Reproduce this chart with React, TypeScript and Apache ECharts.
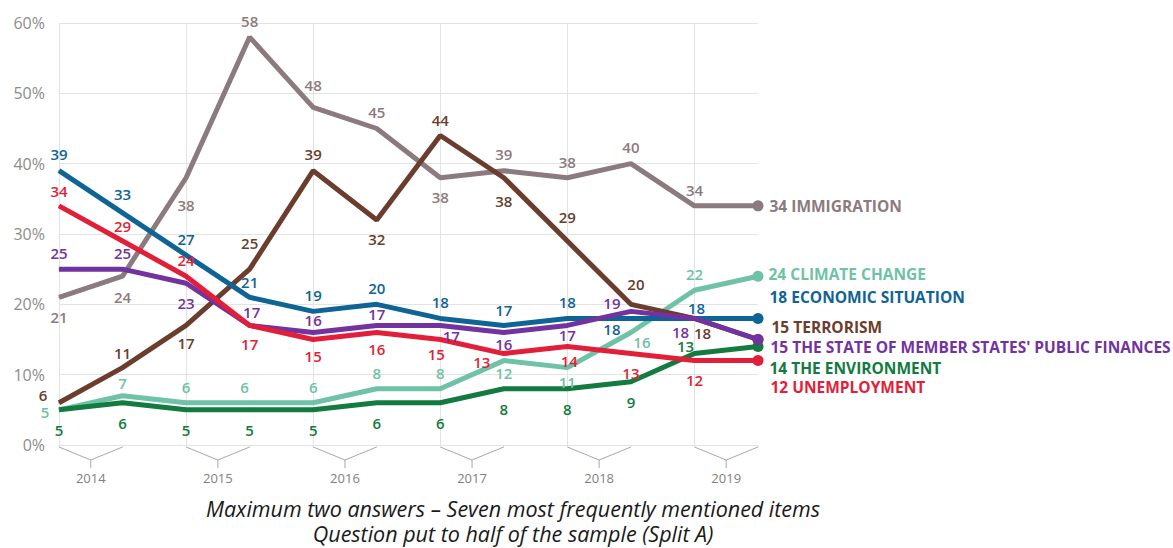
import React, { useEffect, useRef } from "react";
import * as echarts from "echarts";

// ---------- data ----------
const periods = [
  "Spring 2014", "Autumn 2014", "Spring 2015", "Autumn 2015",
  "Spring 2016", "Autumn 2016", "Spring 2017", "Autumn 2017",
  "Spring 2018", "Autumn 2018", "Spring 2019", "Autumn 2019",
];
const yearLabels = ["2014", "2015", "2016", "2017", "2018", "2019"];
const yearStartIndex = [0, 2, 4, 6, 8, 10];

const immigration = [21, 24, 38, 58, 48, 45, 38, 39, 38, 40, 34, 34];
const terrorism = [6, 11, 17, 25, 39, 32, 44, 38, 29, 20, 18, 15];
const economicSituation = [39, 33, 27, 21, 19, 20, 18, 17, 18, 18, 18, 18];
const unemployment = [34, 29, 24, 17, 15, 16, 15, 13, 14, 13, 12, 12];
const publicFinances = [25, 25, 23, 17, 16, 17, 17, 16, 17, 19, 18, 15];
const climateChange = [5, 7, 6, 6, 6, 8, 8, 12, 11, 16, 22, 24];
const environment = [5, 6, 5, 5, 5, 6, 6, 8, 8, 9, 13, 14];

const subtitle1 = "Maximum two answers \u2013 Seven most frequently mentioned items";
const subtitle2 = "Question put to half of the sample (Split A)";

// ---------- label placement (pixel offsets of each value label from its point) ----------
const immigrationLabelOffsets = [[0, 20], [0, 21], [0, 27], [0, -16], [0, -22], [0, -16.5], [0, 19], [0, -17], [0, -16], [0, -17], [0, -16]];
const terrorismLabelOffsets = [[-16, -8], [0, -15], [0, 18], [0, -26], [0, -17], [0, 19], [0, -16], [0, 23], [0, -24], [5, -20], [8, 15]];
const economicLabelOffsets = [[0, -17], [0, -19], [0, -16], [0, -15], [0, -16], [0, -16], [0, -16], [0, -15], [0, -16], [-19, 11], [2, -10]];
const unemploymentLabelOffsets = [[0, -15], [0, -15], [0, -16], [0, 19], [0, 16], [0, 17], [-4, 14], [-22, 8], [2, 14], [0, 19], [0, 19]];
const financesLabelOffsets = [[0, -16], [0, -16], [0, 20], [2, -13], [0, -12], [0, -11], [11, 11], [0, 12], [0, 10], [-19, -8], [-14, 14]];
const climateLabelOffsets = [[-14, 2], [0, -13], [0, -16], [-5, -16], [0, -16], [0, -16], [0, -16], [0, 12], [0, 14], [11, 10], [0, -16]];
const environmentLabelOffsets = [[0, 20], [0, 20], [0, 20], [0, 20], [0, 20], [0, 20], [0, 20], [0, 20], [0, 20], [0, 20], [-9, -8]];

const FONT = '"Open Sans", "Noto Sans", sans-serif';

type SeriesSpec = {
  name: string;
  values: number[];
  color: string;
  offsets: number[][];
  endDy: number;
  endGap: number;
};

const specs: SeriesSpec[] = [
  { name: "IMMIGRATION", values: immigration, color: "#8b7b7e", offsets: immigrationLabelOffsets, endDy: 0, endGap: 6 },
  { name: "CLIMATE CHANGE", values: climateChange, color: "#6ec2a6", offsets: climateLabelOffsets, endDy: -2, endGap: 5 },
  { name: "THE ENVIRONMENT", values: environment, color: "#137a40", offsets: environmentLabelOffsets, endDy: 21, endGap: 6 },
  { name: "TERRORISM", values: terrorism, color: "#6a3d2c", offsets: terrorismLabelOffsets, endDy: -13, endGap: 8 },
  { name: "ECONOMIC SITUATION", values: economicSituation, color: "#0f6496", offsets: economicLabelOffsets, endDy: -21, endGap: 6 },
  { name: "THE STATE OF MEMBER STATES' PUBLIC FINANCES", values: publicFinances, color: "#7232a0", offsets: financesLabelOffsets, endDy: 7.5, endGap: 7 },
  { name: "UNEMPLOYMENT", values: unemployment, color: "#e31e38", offsets: unemploymentLabelOffsets, endDy: 26, endGap: 7 },
];

function buildLine(s: SeriesSpec) {
  const last = s.values.length - 1;
  return {
    type: "line",
    name: s.name,
    silent: true,
    symbol: "circle",
    symbolSize: 1,
    showSymbol: true,
    lineStyle: { color: s.color, width: 5 },
    itemStyle: { color: s.color, borderWidth: 0 },
    emphasis: { disabled: true },
    data: s.values.map((v, i) =>
      i === last
        ? {
            value: v,
            symbolSize: 11,
            label: {
              show: true,
              position: "right",
              distance: s.endGap,
              offset: [0, s.endDy],
              formatter: `${v} ${s.name}`,
              color: s.color,
              fontFamily: FONT,
              fontWeight: 700,
              fontSize: 15.5,
              lineHeight: 15,
              textBorderWidth: 0,
            },
          }
        : {
            value: v,
            label: {
              show: true,
              position: "inside",
              offset: s.offsets[i],
              formatter: String(v),
              color: s.color,
              fontFamily: FONT,
              fontWeight: 600,
              fontSize: 15,
              lineHeight: 12,
              textBorderWidth: 0,
            },
          }
    ),
  };
}

export default function App() {
  const ref = useRef<HTMLDivElement>(null);

  useEffect(() => {
    document.body.style.margin = "0";
    if (!ref.current) return;
    const chart = echarts.init(ref.current, undefined, { renderer: "svg" });

    const bracketSeries = {
      type: "custom",
      silent: true,
      clip: false,
      data: yearStartIndex.map((s) => [s, 0]),
      encode: { x: 0, y: 1 },
      renderItem: (params: any, api: any) => {
        const s = api.value(0);
        const a = api.coord([s, 0]);
        const b = api.coord([s + 1, 0]);
        const mx = (a[0] + b[0]) / 2;
        const y = a[1];
        const stroke = "#a8a8a8";
        return {
          type: "group",
          children: [
            { type: "line", shape: { x1: a[0], y1: y, x2: a[0], y2: y + 2 }, style: { stroke: "#e3e3e3", lineWidth: 1 } },
            { type: "line", shape: { x1: b[0], y1: y, x2: b[0], y2: y + 2 }, style: { stroke: "#e3e3e3", lineWidth: 1 } },
            {
              type: "polyline",
              shape: { points: [[a[0], y + 2], [mx, y + 15], [b[0], y + 2]] },
              style: { stroke, lineWidth: 1, fill: null },
            },
            { type: "line", shape: { x1: mx, y1: y + 15, x2: mx, y2: y + 23 }, style: { stroke, lineWidth: 1 } },
            {
              type: "text",
              x: mx,
              y: y + 33,
              style: {
                text: yearLabels[params.dataIndex],
                fill: "#7f7f7f",
                fontSize: 13,
                fontFamily: FONT,
                align: "center",
                verticalAlign: "middle",
                textAlign: "center",
                textVerticalAlign: "middle",
              },
            },
          ],
        };
      },
    };

    chart.setOption({
      animation: false,
      backgroundColor: "#ffffff",
      grid: { left: 59, right: 415, top: 23, bottom: 103, containLabel: false, outerBoundsMode: "none" },
      xAxis: {
        type: "category",
        data: periods,
        boundaryGap: false,
        axisLine: { show: false },
        axisTick: { show: false },
        axisLabel: { show: false },
        splitLine: { show: true, lineStyle: { color: "#e3e3e3", width: 1 } },
      },
      yAxis: {
        type: "value",
        min: 0,
        max: 60,
        interval: 10,
        axisLine: { show: false },
        axisTick: { show: false },
        axisLabel: {
          formatter: "{value}%",
          color: "#8c8c8c",
          fontSize: 16,
          fontFamily: FONT,
          margin: 14,
        },
        splitLine: { show: true, lineStyle: { color: "#e3e3e3", width: 1 } },
      },
      graphic: [
        {
          type: "text",
          x: 513,
          y: 508.5,
          silent: true,
          style: {
            text: subtitle1,
            fill: "#1a1a1a",
            font: `italic 21.5px ${FONT}`,
            lineHeight: 21,
            textAlign: "center",
            textVerticalAlign: "middle",
          },
        },
        {
          type: "text",
          x: 513,
          y: 533.5,
          silent: true,
          style: {
            text: subtitle2,
            fill: "#1a1a1a",
            font: `italic 21.5px ${FONT}`,
            lineHeight: 21,
            textAlign: "center",
            textVerticalAlign: "middle",
          },
        },
      ],
      series: [bracketSeries, ...specs.map(buildLine)],
    });

    return () => chart.dispose();
  }, []);

  return <div ref={ref} style={{ width: 1173, height: 548 }} />;
}
